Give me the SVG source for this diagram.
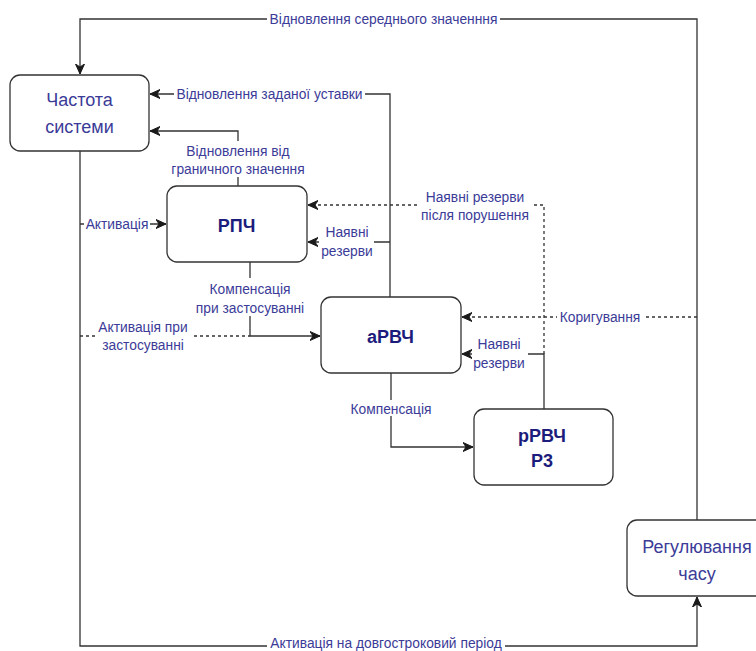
<svg xmlns="http://www.w3.org/2000/svg" width="756" height="651" viewBox="0 0 756 651">
<defs>
<marker id="arr" markerUnits="userSpaceOnUse" markerWidth="12" markerHeight="10" refX="10" refY="5" orient="auto">
<path d="M0,0.5 L10,5 L0,9.5 L3,5 Z" fill="#1a1a1a" stroke="#1a1a1a" stroke-width="1"/>
</marker>
<style>
.e{fill:none;stroke:#333;stroke-width:1.3}
.d{stroke-dasharray:3 3}
.n{fill:#fff;stroke:#333;stroke-width:1.3}
.bg{fill:#fff;stroke:none}
.l{font-family:"Liberation Sans",Arial,sans-serif;font-size:13.8px;fill:#3b3b98;text-anchor:middle}
.t{font-family:"Liberation Sans",Arial,sans-serif;font-size:18px;fill:#3b3b98;text-anchor:middle}
.b{font-family:"Liberation Sans",Arial,sans-serif;font-size:18px;font-weight:bold;fill:#1c1c7c;text-anchor:middle}
</style>
</defs>
<rect width="756" height="651" fill="#fff"/>
<g id="connectors">
<path class="e" d="M697,520 V19 H80 V74" marker-end="url(#arr)"/>
<path class="e" d="M390,297 V94 H150" marker-end="url(#arr)"/>
<path class="e" d="M238,186 V131 H150" marker-end="url(#arr)"/>
<path class="e" d="M80,151 V646 H697 V597" marker-end="url(#arr)"/>
<path class="e" d="M80,224 H166" marker-end="url(#arr)"/>
<path class="e d" d="M80,336 H250"/>
<path class="e" d="M250,262 V336 H320" marker-end="url(#arr)"/>
<path class="e" d="M390,242 H308" marker-end="url(#arr)"/>
<path class="e d" d="M544,354 V205 H308" marker-end="url(#arr)"/>
<path class="e d" d="M697,317 H462" marker-end="url(#arr)"/>
<path class="e" d="M544,409 V354 H462" marker-end="url(#arr)"/>
<path class="e" d="M391,373 V447 H473" marker-end="url(#arr)"/>
<g id="labels">
<rect class="bg" x="267" y="11" width="233" height="16"/>
<text class="l" x="383.5" y="24">Відновлення середнього значенння</text>
<rect class="bg" x="174" y="86" width="191" height="16"/>
<text class="l" x="269.5" y="99">Відновлення заданої уставки</text>
<rect class="bg" x="169" y="141" width="138" height="36"/>
<text class="l" x="238" y="155.5">Відновлення від</text>
<text class="l" x="238" y="173.5">граничного значення</text>
<rect class="bg" x="84" y="216" width="66" height="16"/>
<text class="l" x="117" y="229">Активація</text>
<rect class="bg" x="319" y="222" width="55" height="38"/>
<text class="l" x="347" y="237">Наявні</text>
<text class="l" x="347" y="256">резерви</text>
<rect class="bg" x="418" y="186" width="113" height="38"/>
<text class="l" x="475" y="201.5">Наявні резерви</text>
<text class="l" x="475" y="220">після порушення</text>
<rect class="bg" x="194" y="278" width="113" height="38"/>
<text class="l" x="250" y="294">Компенсація</text>
<text class="l" x="250" y="312.5">при застосуванні</text>
<rect class="bg" x="96" y="316" width="95" height="38"/>
<text class="l" x="143" y="331.5">Активація при</text>
<text class="l" x="143" y="350">застосуванні</text>
<rect class="bg" x="557" y="309" width="87" height="16"/>
<text class="l" x="600" y="321.5">Коригування</text>
<rect class="bg" x="472" y="334" width="56" height="38"/>
<text class="l" x="499" y="349">Наявні</text>
<text class="l" x="499" y="368">резерви</text>
<rect class="bg" x="348" y="400" width="85" height="16"/>
<text class="l" x="391" y="413.5">Компенсація</text>
<rect class="bg" x="267" y="638" width="238" height="13"/>
<text class="l" x="386" y="648">Активація на довгостроковий період</text>
</g>
</g>
<g id="node-frequency">
<rect class="n" x="10" y="75" width="139" height="76" rx="10"/>
<text class="t" x="79.5" y="106">Частота</text>
<text class="t" x="79.5" y="132.5">системи</text>
</g>
<g id="node-rpch">
<rect class="n" x="167" y="186" width="140" height="76" rx="10"/>
<text class="b" x="236.5" y="232">РПЧ</text>
</g>
<g id="node-arvch">
<rect class="n" x="321" y="297" width="140" height="76" rx="10"/>
<text class="b" x="390.5" y="343">аРВЧ</text>
</g>
<g id="node-rrvch">
<rect class="n" x="474" y="409" width="139" height="76" rx="10"/>
<text class="b" x="542" y="442">рРВЧ</text>
<text class="b" x="542" y="467">Р3</text>
</g>
<g id="node-time">
<rect class="n" x="627" y="520" width="140" height="76" rx="10"/>
<text class="t" x="697" y="553">Регулювання</text>
<text class="t" x="697" y="580">часу</text>
</g>
</svg>
